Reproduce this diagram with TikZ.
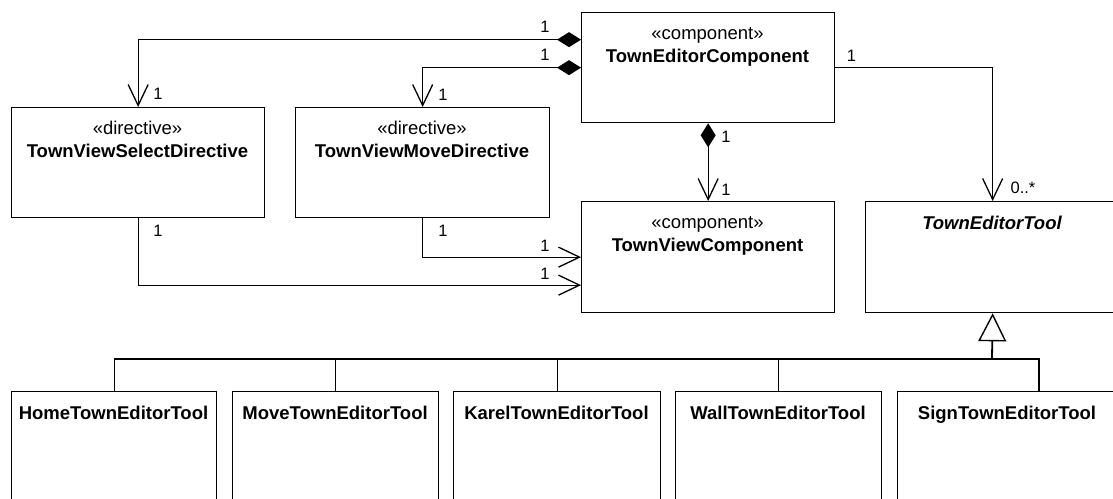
\documentclass[tikz,border=0pt]{standalone}
\usepackage{fontspec}
\setmainfont{Liberation Sans}
\usetikzlibrary{arrows.meta}
\begin{document}
\begin{tikzpicture}[x=1pt,y=-1pt,
  line width=1.3pt,
  cls/.style={draw, rectangle, anchor=north west, inner sep=0pt},
  stereo/.style={font=\fontsize{18.5}{20}\selectfont, inner sep=0pt, anchor=base},
  cname/.style={font=\fontsize{18.5}{20}\selectfont\bfseries, inner sep=0pt, anchor=base},
  mult/.style={font=\fontsize{16.5}{18}\selectfont, inner sep=0pt},
  assoc/.style={-{Straight Barb[length=21pt,width=20pt]}},
  compo/.style={{Diamond[length=24pt,width=15pt]}-{Straight Barb[length=21pt,width=20pt]}},
  gen/.style={line width=1.8pt,-{Triangle[open,length=28pt,width=28pt,fill=white,line width=1.4pt]}},
]
\useasboundingbox (0,0) rectangle (1113,498);
\clip (0,0) rectangle (1113,498);

% classes of the upper part
\node[cls, minimum width=253pt, minimum height=110pt] (tec) at (581,12) {};
\node[stereo] (tec-s) at (707.5,39) {«component»};
\node[cname]  (tec-n) at (707.5,62.5) {TownEditorComponent};

\node[cls, minimum width=253pt, minimum height=110pt] (sel) at (11,107) {};
\node[stereo] (sel-s) at (137.5,134) {«directive»};
\node[cname]  (sel-n) at (137.5,157.5) {TownViewSelectDirective};

\node[cls, minimum width=254pt, minimum height=110pt] (mov) at (295,107) {};
\node[stereo] (mov-s) at (422,134) {«directive»};
\node[cname]  (mov-n) at (422,157.5) {TownViewMoveDirective};

\node[cls, minimum width=253pt, minimum height=111pt] (tvc) at (581,201) {};
\node[stereo] (tvc-s) at (707.5,228) {«component»};
\node[cname]  (tvc-n) at (707.5,251.5) {TownViewComponent};

\node[cls, minimum width=254pt, minimum height=111pt] (tool) at (865,201) {};
\node[cname]  (tool-n) at (992,229) {\itshape TownEditorTool};

% concrete tools
\node[cls, minimum width=205pt, minimum height=150pt] (home) at (11,391) {};
\node[cname] (home-n) at (113.5,419) {HomeTownEditorTool};
\node[cls, minimum width=206pt, minimum height=150pt] (mvt) at (232,391) {};
\node[cname] (mvt-n) at (335,419) {MoveTownEditorTool};
\node[cls, minimum width=207pt, minimum height=150pt] (karel) at (453,391) {};
\node[cname] (karel-n) at (556.5,419) {KarelTownEditorTool};
\node[cls, minimum width=206pt, minimum height=150pt] (wall) at (675,391) {};
\node[cname] (wall-n) at (778,419) {WallTownEditorTool};
\node[cls, minimum width=220pt, minimum height=150pt] (sign) at (897,391) {};
\node[cname] (sign-n) at (1007,419) {SignTownEditorTool};

% compositions owned by TownEditorComponent
\draw[compo] ([yshift=28pt]tec.west) -| (sel.north);
\draw[compo] (tec.west) -| (mov.north);
\draw[compo] (tec.south) -- (tvc.north);

% associations
\draw[assoc] (tec.east) -| (tool.north);
\draw[assoc] (mov.south) |- (tvc.west);
\draw[assoc] (sel.south) |- ([yshift=-28pt]tvc.west);

% inheritance tree
\coordinate (bus) at (992,359);
\coordinate (signjoin) at (1039,391);
\draw (home.north) |- (bus);
\draw (mvt.north) |- (bus);
\draw (karel.north) |- (bus);
\draw (wall.north) |- (bus);
\draw (signjoin) |- (bus);
\draw[gen] (bus) -- (tool.south);

% multiplicities
\node[mult] (m1) at (545,27) {1};
\node[mult] (m2) at (545,55) {1};
\node[mult] (m3) at (158,94) {1};
\node[mult] (m4) at (443,95) {1};
\node[mult] (m5) at (726,137) {1};
\node[mult] (m6) at (726,190) {1};
\node[mult] (m7) at (851.5,56) {1};
\node[mult] (m8) at (1023,188) {0..*};
\node[mult] (m9) at (158,231) {1};
\node[mult] (m10) at (443,231) {1};
\node[mult] (m11) at (545,246) {1};
\node[mult] (m12) at (545,274) {1};
\end{tikzpicture}
\end{document}
